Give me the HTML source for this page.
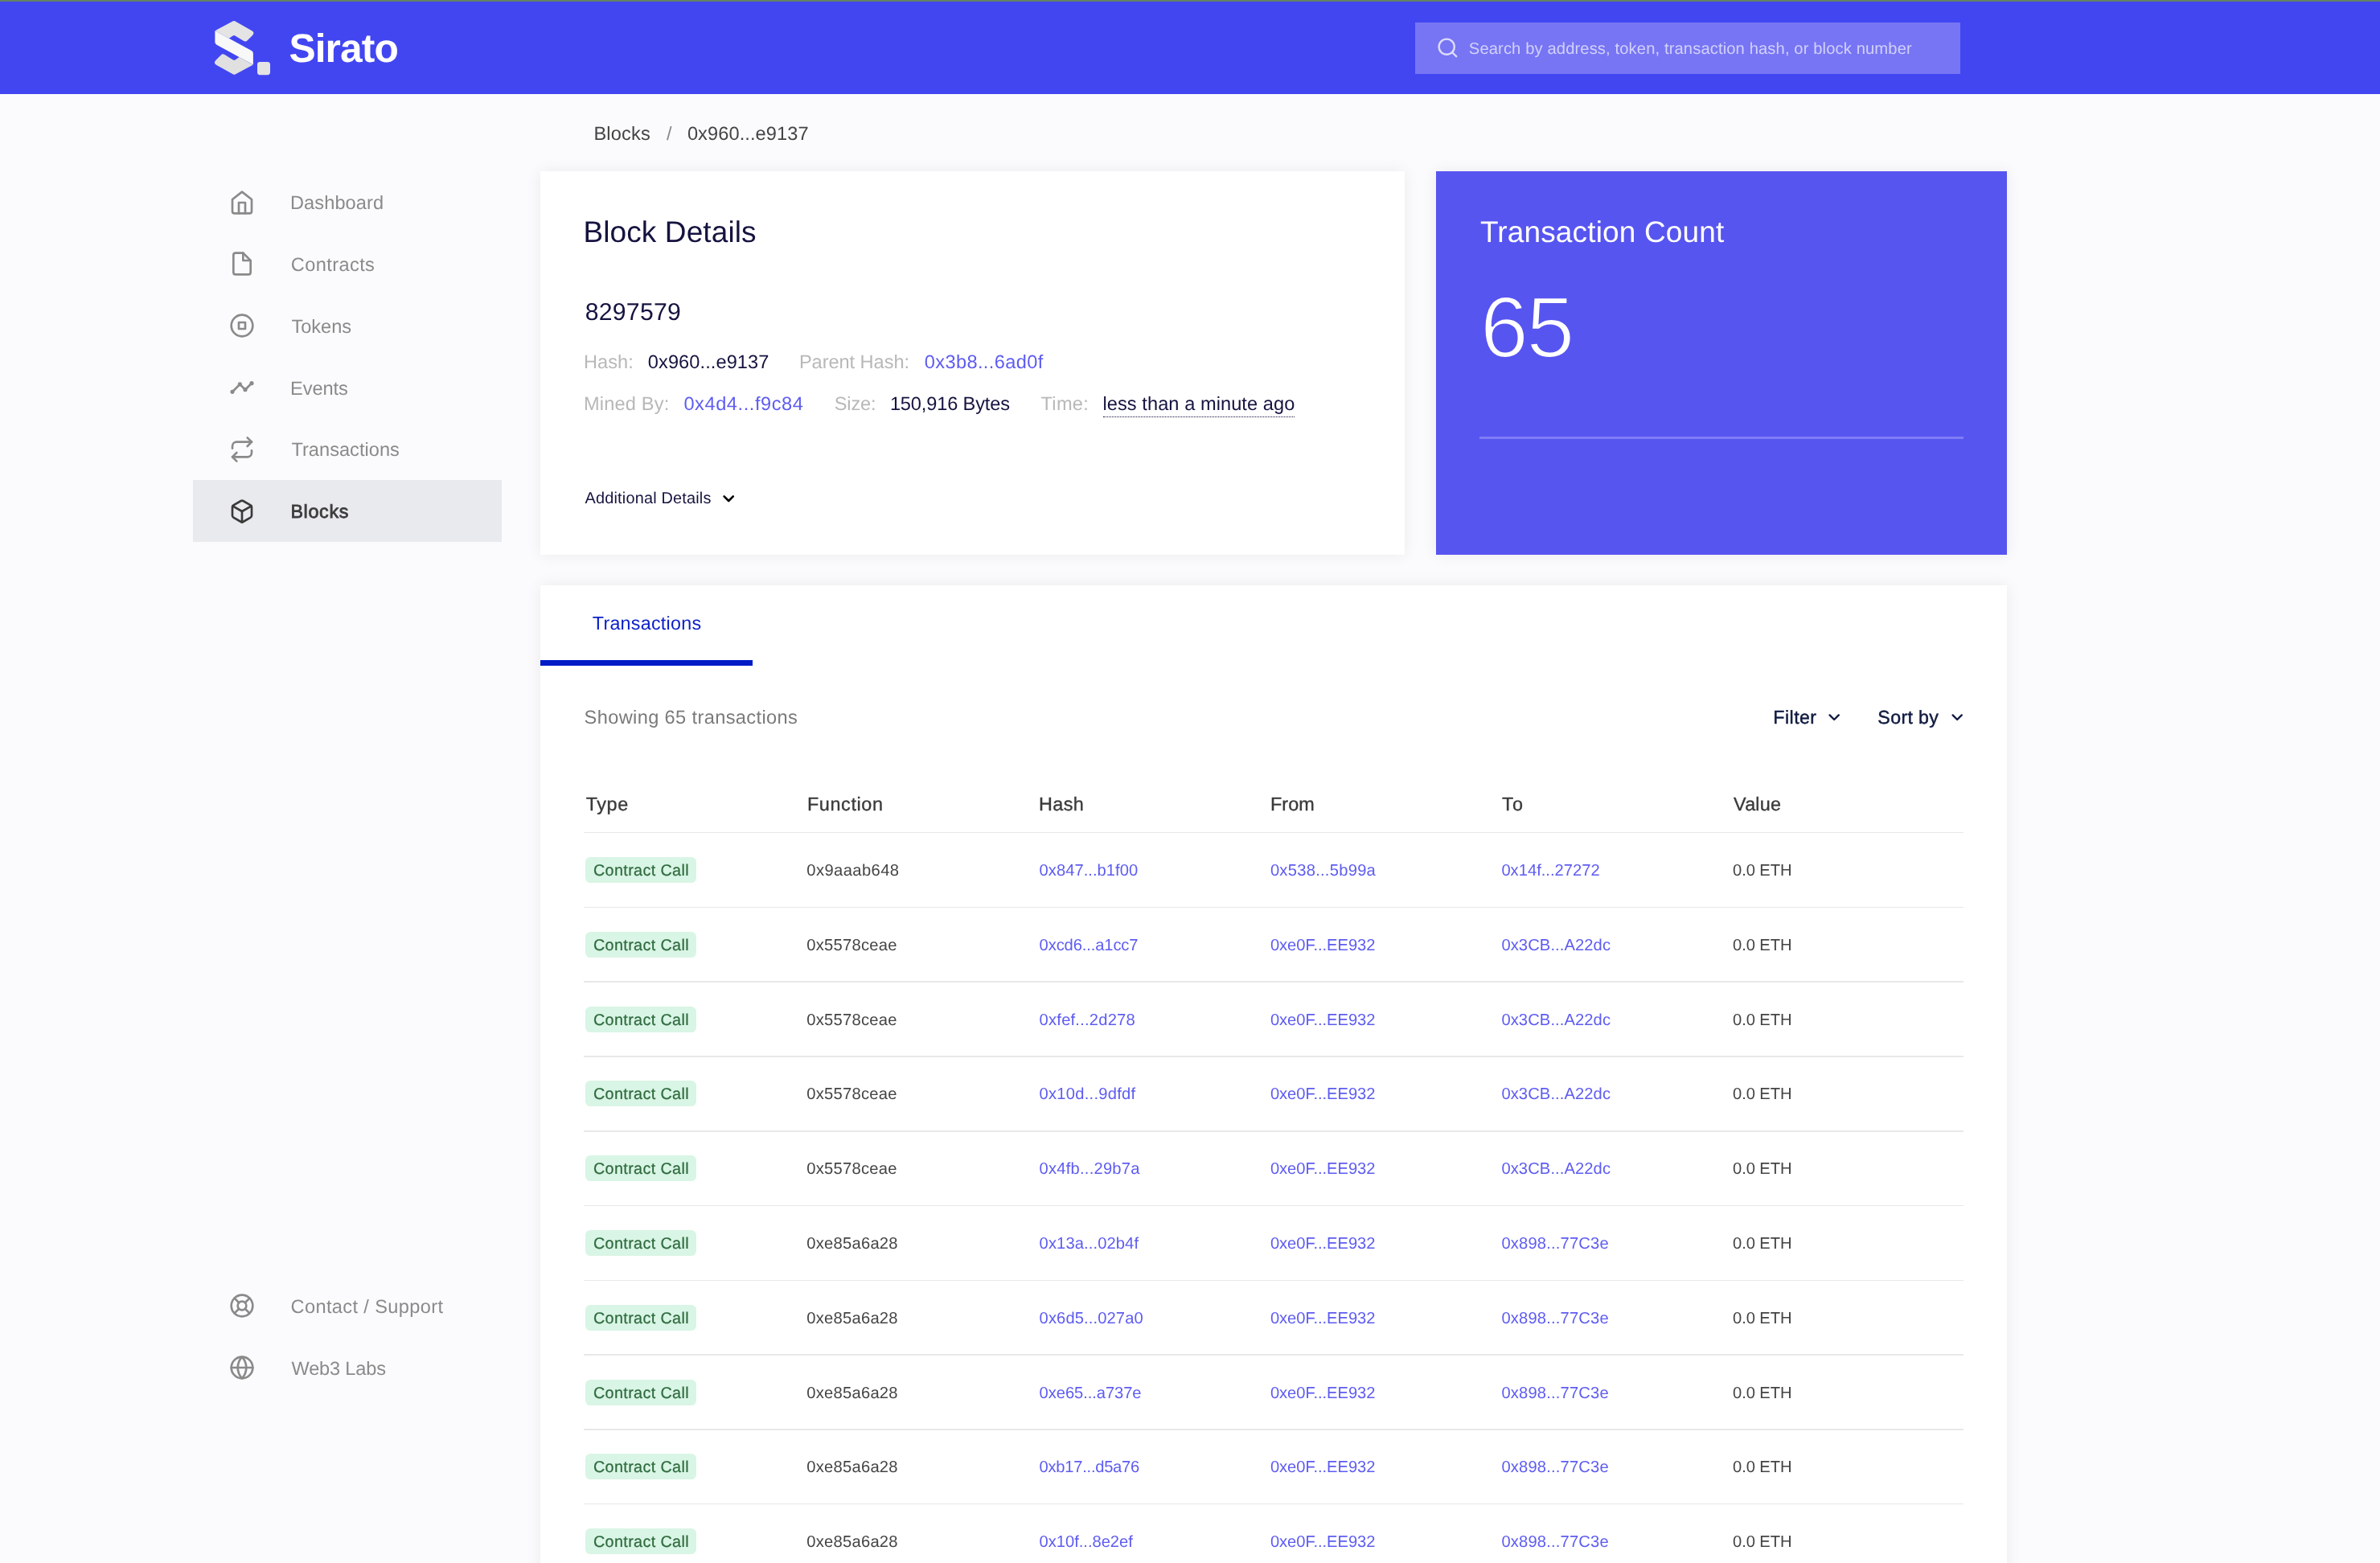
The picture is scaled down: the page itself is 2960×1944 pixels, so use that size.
<!DOCTYPE html>
<html lang="en"><head><meta charset="utf-8"><title>Sirato - Block 0x960...e9137</title>
<style>
html,body{margin:0;padding:0}
html{overflow:hidden;width:2960px;height:1944px}
body{width:2960px;height:1944px;overflow:hidden;background:#fbfbfd;font-family:"Liberation Sans", sans-serif;position:relative;-webkit-font-smoothing:antialiased;text-rendering:geometricPrecision}
#page{position:absolute;left:0;top:0;width:2960px;height:1944px;overflow:hidden}
.abs,.t,.ic,.hl,.badge{position:absolute}
.t{white-space:nowrap;line-height:0;height:0;display:block}
.t.med{-webkit-text-stroke:0.22px currentColor}
.t.med2{-webkit-text-stroke:0.35px currentColor}
.t.med3{-webkit-text-stroke:0.45px currentColor}
.t.semi{-webkit-text-stroke:0.8px currentColor}
.t.light{-webkit-text-stroke:2.2px #5755f0;paint-order:fill stroke}
.ic{display:block;overflow:visible}
.card{position:absolute;background:#fff;box-shadow:0 0 18px rgba(20,20,50,0.07)}
.hl{left:726px;width:1716px;background:#e8e8e8}
.badge{left:728px;width:137.8px;height:32px;border-radius:6.4px;background:#d9f5e5}
</style></head>
<body>
<div id="page">
<header class="abs" style="left:0;top:0;width:2960px;height:117px;background:#4246f1"></header>
<div class="abs" style="left:0;top:0;width:2960px;height:2px;background:#62835f"></div>
<div class="abs" style="left:1760px;top:28px;width:678px;height:64px;background:#7775f3"></div>
<svg class="ic" style="left:255px;top:15px" width="90" height="90" viewBox="255 15 90 90">
<path d="M268.71 39.01 Q267.40 38.30 268.71 37.60 L289.80 26.34 Q291.00 25.70 292.19 26.37 L312.88 37.92 Q317.50 40.50 313.76 44.24 L307.73 50.27 Q305.50 52.50 302.81 50.85 L292.39 44.45 Q291.00 43.60 289.66 44.52 L284.90 47.80 Z" fill="#e4e4e4"/>
<path d="M313.59 79.89 Q314.90 80.60 313.59 81.30 L292.50 92.56 Q291.30 93.20 290.11 92.53 L269.42 80.98 Q264.80 78.40 268.54 74.66 L274.57 68.63 Q276.80 66.40 279.49 68.05 L289.91 74.45 Q291.30 75.30 292.64 74.38 L297.40 71.10 Z" fill="#e0e0e0"/>
<path d="M267.40 38.30 L312.81 63.06 Q314.90 64.20 314.90 66.57 L314.90 80.60 L269.49 55.84 Q267.40 54.70 267.40 52.33 Z" fill="#f8f8f8"/>
<rect x="320" y="77" width="16" height="16.2" rx="3.4" fill="#e4e4e4"/>
</svg>
<nav>
<div class="abs" style="left:240px;top:597px;width:384px;height:77px;background:#e9eaee"></div>
</nav>
<main>
<section class="card" style="left:672px;top:213px;width:1075px;height:477px"></section>
<section class="card" style="left:1786px;top:213px;width:710px;height:477px;background:#5755f0"></section>
<div class="abs" style="left:1840px;top:543.4px;width:602.4px;height:2.6px;background:#7f7df4"></div>
<section class="card" style="left:672px;top:728px;width:1824px;height:1300px"></section>
<div class="abs" style="left:672px;top:821.2px;width:264px;height:6.6px;background:#021bc6"></div>
<div class="abs" style="left:1372.3px;top:518.4px;width:237.4px;height:0;border-top:1.8px dotted #15133f"></div>
<div class="hl" style="top:1035px;height:1px"></div><div class="hl" style="top:1128px;height:1px"></div><div class="hl" style="top:1220px;height:2px"></div><div class="hl" style="top:1313px;height:2px"></div><div class="hl" style="top:1406px;height:2px"></div><div class="hl" style="top:1499px;height:1px"></div><div class="hl" style="top:1592px;height:1px"></div><div class="hl" style="top:1684px;height:2px"></div><div class="hl" style="top:1777px;height:2px"></div><div class="hl" style="top:1870px;height:1px"></div>
<div class="badge" style="top:1066.0px"></div><div class="badge" style="top:1158.8px"></div><div class="badge" style="top:1251.6px"></div><div class="badge" style="top:1344.4px"></div><div class="badge" style="top:1437.2px"></div><div class="badge" style="top:1530.0px"></div><div class="badge" style="top:1622.8px"></div><div class="badge" style="top:1715.6px"></div><div class="badge" style="top:1808.4px"></div><div class="badge" style="top:1901.2px"></div>
</main>
<svg class="ic" style="left:285px;top:236px" width="32" height="32" viewBox="0 0 24 24" fill="none" stroke="#8a8a8a" stroke-width="2" stroke-linecap="round" stroke-linejoin="round" ><path d="M3 9l9-7 9 7v11a2 2 0 0 1-2 2H5a2 2 0 0 1-2-2z"/><polyline points="9 22 9 12 15 12 15 22"/></svg><svg class="ic" style="left:285px;top:312px" width="32" height="32" viewBox="0 0 24 24" fill="none" stroke="#8a8a8a" stroke-width="2" stroke-linecap="round" stroke-linejoin="round" ><path d="M13 2H6a2 2 0 0 0-2 2v16a2 2 0 0 0 2 2h12a2 2 0 0 0 2-2V9z"/><polyline points="13 2 13 9 20 9"/></svg><svg class="ic" style="left:285px;top:389px" width="32" height="32" viewBox="0 0 24 24" fill="none" stroke="#8a8a8a" stroke-width="2" stroke-linecap="round" stroke-linejoin="round" ><circle cx="12" cy="12" r="10"/><rect x="9" y="9" width="6" height="6"/></svg><svg class="ic" style="left:285px;top:466px" width="32" height="32" viewBox="0 0 24 24" fill="#8a8a8a"><path d="M23 8c0 1.1-.9 2-2 2-.18 0-.35-.02-.51-.07l-3.56 3.55c.05.16.07.34.07.52 0 1.1-.9 2-2 2s-2-.9-2-2c0-.18.02-.36.07-.52l-2.55-2.55c-.16.05-.34.07-.52.07s-.36-.02-.52-.07l-4.55 4.56c.05.16.07.33.07.51 0 1.1-.9 2-2 2s-2-.9-2-2 .9-2 2-2c.18 0 .35.02.51.07l4.56-4.55C8.02 9.36 8 9.18 8 9c0-1.1.9-2 2-2s2 .9 2 2c0 .18-.02.36-.07.52l2.55 2.55c.16-.05.34-.07.52-.07s.36.02.52.07l3.55-3.56C19.02 8.35 19 8.18 19 8c0-1.1.9-2 2-2s2 .9 2 2z"/></svg><svg class="ic" style="left:285px;top:543px" width="32" height="32" viewBox="0 0 24 24" fill="none" stroke="#8a8a8a" stroke-width="2" stroke-linecap="round" stroke-linejoin="round" ><polyline points="17 1 21 5 17 9"/><path d="M3 11V9a4 4 0 0 1 4-4h14"/><polyline points="7 23 3 19 7 15"/><path d="M21 13v2a4 4 0 0 1-4 4H3"/></svg><svg class="ic" style="left:285px;top:620px" width="32" height="32" viewBox="0 0 24 24" fill="none" stroke="#3a3a3a" stroke-width="2" stroke-linecap="round" stroke-linejoin="round" ><path d="M21 16V8a2 2 0 0 0-1-1.73l-7-4a2 2 0 0 0-2 0l-7 4A2 2 0 0 0 3 8v8a2 2 0 0 0 1 1.73l7 4a2 2 0 0 0 2 0l7-4A2 2 0 0 0 21 16z"/><polyline points="3.27 6.96 12 12.01 20.73 6.96"/><line x1="12" y1="22.08" x2="12" y2="12"/></svg><svg class="ic" style="left:285px;top:1608px" width="32" height="32" viewBox="0 0 24 24" fill="none" stroke="#8a8a8a" stroke-width="2" stroke-linecap="round" stroke-linejoin="round" ><circle cx="12" cy="12" r="10"/><circle cx="12" cy="12" r="4"/><line x1="4.93" y1="4.93" x2="9.17" y2="9.17"/><line x1="14.83" y1="14.83" x2="19.07" y2="19.07"/><line x1="14.83" y1="9.17" x2="19.07" y2="4.93"/><line x1="4.93" y1="19.07" x2="9.17" y2="14.83"/></svg><svg class="ic" style="left:285px;top:1685px" width="32" height="32" viewBox="0 0 24 24" fill="none" stroke="#8a8a8a" stroke-width="2" stroke-linecap="round" stroke-linejoin="round" ><circle cx="12" cy="12" r="10"/><line x1="2" y1="12" x2="22" y2="12"/><path d="M12 2a15.3 15.3 0 0 1 4 10 15.3 15.3 0 0 1-4 10 15.3 15.3 0 0 1-4-10 15.3 15.3 0 0 1 4-10z"/></svg><svg class="ic" style="left:1785.6px;top:45.2px" width="28.8" height="28.8" viewBox="0 0 24 24" fill="none" stroke="#dddcfc" stroke-width="2" stroke-linecap="round" stroke-linejoin="round" ><circle cx="11" cy="11" r="8"/><line x1="21" y1="21" x2="16.65" y2="16.65"/></svg><svg class="ic" style="left:894.8px;top:608.6px" width="22.4" height="22.4" viewBox="0 0 24 24" fill="none" stroke="#000000" stroke-width="2.8" stroke-linecap="round" stroke-linejoin="round" ><polyline points="6 9 12 15 18 9"/></svg><svg class="ic" style="left:2269.7px;top:880.9px" width="22.4" height="22.4" viewBox="0 0 24 24" fill="none" stroke="#101a40" stroke-width="2.5" stroke-linecap="round" stroke-linejoin="round" ><polyline points="6 9 12 15 18 9"/></svg><svg class="ic" style="left:2423.0px;top:880.9px" width="22.4" height="22.4" viewBox="0 0 24 24" fill="none" stroke="#101a40" stroke-width="2.5" stroke-linecap="round" stroke-linejoin="round" ><polyline points="6 9 12 15 18 9"/></svg>
<div id="txt" style="position:absolute;left:0;top:0;width:2960px;height:1944px;will-change:transform">
<span class="t" style="left:359.42px;top:60px;font-size:49.7px;color:#ffffff;letter-spacing:-0.869px;font-weight:bold;">Sirato</span><span class="t" style="left:1826.80px;top:61px;font-size:20.2px;color:#d2d1fb;letter-spacing:0.115px;">Search by address, token, transaction hash, or block number</span><span class="t" style="left:361.00px;top:253px;font-size:23.6px;color:#8a8a8a;letter-spacing:0.084px;">Dashboard</span><span class="t" style="left:361.80px;top:330px;font-size:23.6px;color:#8a8a8a;letter-spacing:0.389px;">Contracts</span><span class="t" style="left:362.40px;top:407px;font-size:23.6px;color:#8a8a8a;letter-spacing:-0.015px;">Tokens</span><span class="t" style="left:361.00px;top:484px;font-size:23.6px;color:#8a8a8a;letter-spacing:-0.050px;">Events</span><span class="t" style="left:362.40px;top:560px;font-size:23.6px;color:#8a8a8a;letter-spacing:0.025px;">Transactions</span><span class="t semi" style="left:361.40px;top:636px;font-size:23.3px;color:#3c3c3c;letter-spacing:0.685px;">Blocks</span><span class="t" style="left:361.50px;top:1626px;font-size:23.6px;color:#8a8a8a;letter-spacing:0.369px;">Contact / Support</span><span class="t" style="left:362.50px;top:1703px;font-size:23.6px;color:#8a8a8a;letter-spacing:-0.182px;">Web3 Labs</span><span class="t" style="left:738.40px;top:167px;font-size:23.6px;color:#444444;letter-spacing:0.178px;">Blocks</span><span class="t" style="left:829.00px;top:167px;font-size:23.6px;color:#8a8a8a;letter-spacing:0.130px;">/</span><span class="t" style="left:854.90px;top:167px;font-size:23.6px;color:#444444;letter-spacing:0.094px;">0x960...e9137</span><span class="t" style="left:725.41px;top:289px;font-size:37.0px;color:#15133f;letter-spacing:0.108px;">Block Details</span><span class="t" style="left:727.86px;top:389px;font-size:30.2px;color:#15133f;letter-spacing:0.216px;">8297579</span><span class="t" style="left:725.90px;top:451px;font-size:23.6px;color:#b8b8b8;letter-spacing:0.052px;">Hash:</span><span class="t" style="left:805.80px;top:451px;font-size:23.6px;color:#15133f;letter-spacing:0.086px;">0x960...e9137</span><span class="t" style="left:993.90px;top:451px;font-size:23.6px;color:#b8b8b8;letter-spacing:-0.053px;">Parent Hash:</span><span class="t" style="left:1149.70px;top:451px;font-size:23.6px;color:#5e5cf1;letter-spacing:0.386px;">0x3b8...6ad0f</span><span class="t" style="left:725.90px;top:503px;font-size:23.6px;color:#b8b8b8;letter-spacing:0.191px;">Mined By:</span><span class="t" style="left:850.40px;top:503px;font-size:23.6px;color:#5e5cf1;letter-spacing:0.568px;">0x4d4...f9c84</span><span class="t" style="left:1037.70px;top:503px;font-size:23.6px;color:#b8b8b8;letter-spacing:-0.127px;">Size:</span><span class="t" style="left:1106.90px;top:503px;font-size:23.6px;color:#15133f;letter-spacing:-0.141px;">150,916 Bytes</span><span class="t" style="left:1294.50px;top:503px;font-size:23.6px;color:#b8b8b8;letter-spacing:0.308px;">Time:</span><span class="t" style="left:1371.50px;top:503px;font-size:23.6px;color:#15133f;letter-spacing:0.065px;">less than a minute ago</span><span class="t" style="left:727.50px;top:620px;font-size:19.9px;color:#15133f;letter-spacing:0.188px;">Additional Details</span><span class="t" style="left:1840.92px;top:289px;font-size:37.0px;color:#ffffff;letter-spacing:0.150px;">Transaction Count</span><span class="t light" style="left:1840.96px;top:407px;font-size:107.5px;color:#ffffff;letter-spacing:-2.177px;">65</span><span class="t" style="left:736.80px;top:775px;font-size:23.3px;color:#0a1ec8;letter-spacing:0.248px;">Transactions</span><span class="t" style="left:726.60px;top:893px;font-size:23.6px;color:#7a7a7a;letter-spacing:0.371px;">Showing 65 transactions</span><span class="t med3" style="left:2205.30px;top:892px;font-size:23.2px;color:#101a40;letter-spacing:0.454px;">Filter</span><span class="t med3" style="left:2335.30px;top:892px;font-size:23.2px;color:#101a40;letter-spacing:0.367px;">Sort by</span><span class="t med2" style="left:728.80px;top:1000px;font-size:23.4px;color:#3a3a3a;letter-spacing:0.561px;">Type</span><span class="t med2" style="left:1003.90px;top:1000px;font-size:23.4px;color:#3a3a3a;letter-spacing:0.623px;">Function</span><span class="t med2" style="left:1292.00px;top:1000px;font-size:23.4px;color:#3a3a3a;letter-spacing:0.396px;">Hash</span><span class="t med2" style="left:1579.90px;top:1000px;font-size:23.4px;color:#3a3a3a;letter-spacing:0.100px;">From</span><span class="t med2" style="left:1868.10px;top:1000px;font-size:23.4px;color:#3a3a3a;letter-spacing:1.100px;">To</span><span class="t med2" style="left:2156.10px;top:1000px;font-size:23.4px;color:#3a3a3a;letter-spacing:0.201px;">Value</span><span class="t med" style="left:737.90px;top:1083px;font-size:19.8px;color:#2f6b3f;letter-spacing:0.363px;">Contract Call</span><span class="t" style="left:1003.30px;top:1083px;font-size:20.2px;color:#444444;letter-spacing:0.403px;">0x9aaab648</span><span class="t" style="left:1292.60px;top:1083px;font-size:20.2px;color:#5e5cf1;letter-spacing:0.018px;">0x847...b1f00</span><span class="t" style="left:1579.90px;top:1083px;font-size:20.2px;color:#5e5cf1;letter-spacing:0.249px;">0x538...5b99a</span><span class="t" style="left:1867.40px;top:1083px;font-size:20.2px;color:#5e5cf1;letter-spacing:-0.007px;">0x14f...27272</span><span class="t" style="left:2155.10px;top:1083px;font-size:20.2px;color:#444444;letter-spacing:-0.101px;">0.0 ETH</span><span class="t med" style="left:737.90px;top:1176px;font-size:19.8px;color:#2f6b3f;letter-spacing:0.363px;">Contract Call</span><span class="t" style="left:1003.30px;top:1176px;font-size:20.2px;color:#444444;letter-spacing:0.240px;">0x5578ceae</span><span class="t" style="left:1292.60px;top:1176px;font-size:20.2px;color:#5e5cf1;letter-spacing:-0.134px;">0xcd6...a1cc7</span><span class="t" style="left:1579.90px;top:1176px;font-size:20.2px;color:#5e5cf1;letter-spacing:-0.063px;">0xe0F...EE932</span><span class="t" style="left:1867.40px;top:1176px;font-size:20.2px;color:#5e5cf1;letter-spacing:0.080px;">0x3CB...A22dc</span><span class="t" style="left:2155.10px;top:1176px;font-size:20.2px;color:#444444;letter-spacing:-0.101px;">0.0 ETH</span><span class="t med" style="left:737.90px;top:1269px;font-size:19.8px;color:#2f6b3f;letter-spacing:0.363px;">Contract Call</span><span class="t" style="left:1003.30px;top:1269px;font-size:20.2px;color:#444444;letter-spacing:0.240px;">0x5578ceae</span><span class="t" style="left:1292.60px;top:1269px;font-size:20.2px;color:#5e5cf1;letter-spacing:0.203px;">0xfef...2d278</span><span class="t" style="left:1579.90px;top:1269px;font-size:20.2px;color:#5e5cf1;letter-spacing:-0.063px;">0xe0F...EE932</span><span class="t" style="left:1867.40px;top:1269px;font-size:20.2px;color:#5e5cf1;letter-spacing:0.080px;">0x3CB...A22dc</span><span class="t" style="left:2155.10px;top:1269px;font-size:20.2px;color:#444444;letter-spacing:-0.101px;">0.0 ETH</span><span class="t med" style="left:737.90px;top:1361px;font-size:19.8px;color:#2f6b3f;letter-spacing:0.363px;">Contract Call</span><span class="t" style="left:1003.30px;top:1361px;font-size:20.2px;color:#444444;letter-spacing:0.240px;">0x5578ceae</span><span class="t" style="left:1292.60px;top:1361px;font-size:20.2px;color:#5e5cf1;letter-spacing:0.226px;">0x10d...9dfdf</span><span class="t" style="left:1579.90px;top:1361px;font-size:20.2px;color:#5e5cf1;letter-spacing:-0.063px;">0xe0F...EE932</span><span class="t" style="left:1867.40px;top:1361px;font-size:20.2px;color:#5e5cf1;letter-spacing:0.080px;">0x3CB...A22dc</span><span class="t" style="left:2155.10px;top:1361px;font-size:20.2px;color:#444444;letter-spacing:-0.101px;">0.0 ETH</span><span class="t med" style="left:737.90px;top:1454px;font-size:19.8px;color:#2f6b3f;letter-spacing:0.363px;">Contract Call</span><span class="t" style="left:1003.30px;top:1454px;font-size:20.2px;color:#444444;letter-spacing:0.240px;">0x5578ceae</span><span class="t" style="left:1292.60px;top:1454px;font-size:20.2px;color:#5e5cf1;letter-spacing:0.209px;">0x4fb...29b7a</span><span class="t" style="left:1579.90px;top:1454px;font-size:20.2px;color:#5e5cf1;letter-spacing:-0.063px;">0xe0F...EE932</span><span class="t" style="left:1867.40px;top:1454px;font-size:20.2px;color:#5e5cf1;letter-spacing:0.080px;">0x3CB...A22dc</span><span class="t" style="left:2155.10px;top:1454px;font-size:20.2px;color:#444444;letter-spacing:-0.101px;">0.0 ETH</span><span class="t med" style="left:737.90px;top:1547px;font-size:19.8px;color:#2f6b3f;letter-spacing:0.363px;">Contract Call</span><span class="t" style="left:1003.30px;top:1547px;font-size:20.2px;color:#444444;letter-spacing:0.236px;">0xe85a6a28</span><span class="t" style="left:1292.60px;top:1547px;font-size:20.2px;color:#5e5cf1;letter-spacing:0.091px;">0x13a...02b4f</span><span class="t" style="left:1579.90px;top:1547px;font-size:20.2px;color:#5e5cf1;letter-spacing:-0.063px;">0xe0F...EE932</span><span class="t" style="left:1867.40px;top:1547px;font-size:20.2px;color:#5e5cf1;letter-spacing:0.170px;">0x898...77C3e</span><span class="t" style="left:2155.10px;top:1547px;font-size:20.2px;color:#444444;letter-spacing:-0.101px;">0.0 ETH</span><span class="t med" style="left:737.90px;top:1640px;font-size:19.8px;color:#2f6b3f;letter-spacing:0.363px;">Contract Call</span><span class="t" style="left:1003.30px;top:1640px;font-size:20.2px;color:#444444;letter-spacing:0.236px;">0xe85a6a28</span><span class="t" style="left:1292.60px;top:1640px;font-size:20.2px;color:#5e5cf1;letter-spacing:0.099px;">0x6d5...027a0</span><span class="t" style="left:1579.90px;top:1640px;font-size:20.2px;color:#5e5cf1;letter-spacing:-0.063px;">0xe0F...EE932</span><span class="t" style="left:1867.40px;top:1640px;font-size:20.2px;color:#5e5cf1;letter-spacing:0.170px;">0x898...77C3e</span><span class="t" style="left:2155.10px;top:1640px;font-size:20.2px;color:#444444;letter-spacing:-0.101px;">0.0 ETH</span><span class="t med" style="left:737.90px;top:1733px;font-size:19.8px;color:#2f6b3f;letter-spacing:0.363px;">Contract Call</span><span class="t" style="left:1003.30px;top:1733px;font-size:20.2px;color:#444444;letter-spacing:0.236px;">0xe85a6a28</span><span class="t" style="left:1292.60px;top:1733px;font-size:20.2px;color:#5e5cf1;letter-spacing:-0.084px;">0xe65...a737e</span><span class="t" style="left:1579.90px;top:1733px;font-size:20.2px;color:#5e5cf1;letter-spacing:-0.063px;">0xe0F...EE932</span><span class="t" style="left:1867.40px;top:1733px;font-size:20.2px;color:#5e5cf1;letter-spacing:0.170px;">0x898...77C3e</span><span class="t" style="left:2155.10px;top:1733px;font-size:20.2px;color:#444444;letter-spacing:-0.101px;">0.0 ETH</span><span class="t med" style="left:737.90px;top:1825px;font-size:19.8px;color:#2f6b3f;letter-spacing:0.363px;">Contract Call</span><span class="t" style="left:1003.30px;top:1825px;font-size:20.2px;color:#444444;letter-spacing:0.236px;">0xe85a6a28</span><span class="t" style="left:1292.60px;top:1825px;font-size:20.2px;color:#5e5cf1;letter-spacing:-0.276px;">0xb17...d5a76</span><span class="t" style="left:1579.90px;top:1825px;font-size:20.2px;color:#5e5cf1;letter-spacing:-0.063px;">0xe0F...EE932</span><span class="t" style="left:1867.40px;top:1825px;font-size:20.2px;color:#5e5cf1;letter-spacing:0.170px;">0x898...77C3e</span><span class="t" style="left:2155.10px;top:1825px;font-size:20.2px;color:#444444;letter-spacing:-0.101px;">0.0 ETH</span><span class="t med" style="left:737.90px;top:1918px;font-size:19.8px;color:#2f6b3f;letter-spacing:0.363px;">Contract Call</span><span class="t" style="left:1003.30px;top:1918px;font-size:20.2px;color:#444444;letter-spacing:0.236px;">0xe85a6a28</span><span class="t" style="left:1292.60px;top:1918px;font-size:20.2px;color:#5e5cf1;letter-spacing:-0.041px;">0x10f...8e2ef</span><span class="t" style="left:1579.90px;top:1918px;font-size:20.2px;color:#5e5cf1;letter-spacing:-0.063px;">0xe0F...EE932</span><span class="t" style="left:1867.40px;top:1918px;font-size:20.2px;color:#5e5cf1;letter-spacing:0.170px;">0x898...77C3e</span><span class="t" style="left:2155.10px;top:1918px;font-size:20.2px;color:#444444;letter-spacing:-0.101px;">0.0 ETH</span>
</div>
</div>
</body></html>
